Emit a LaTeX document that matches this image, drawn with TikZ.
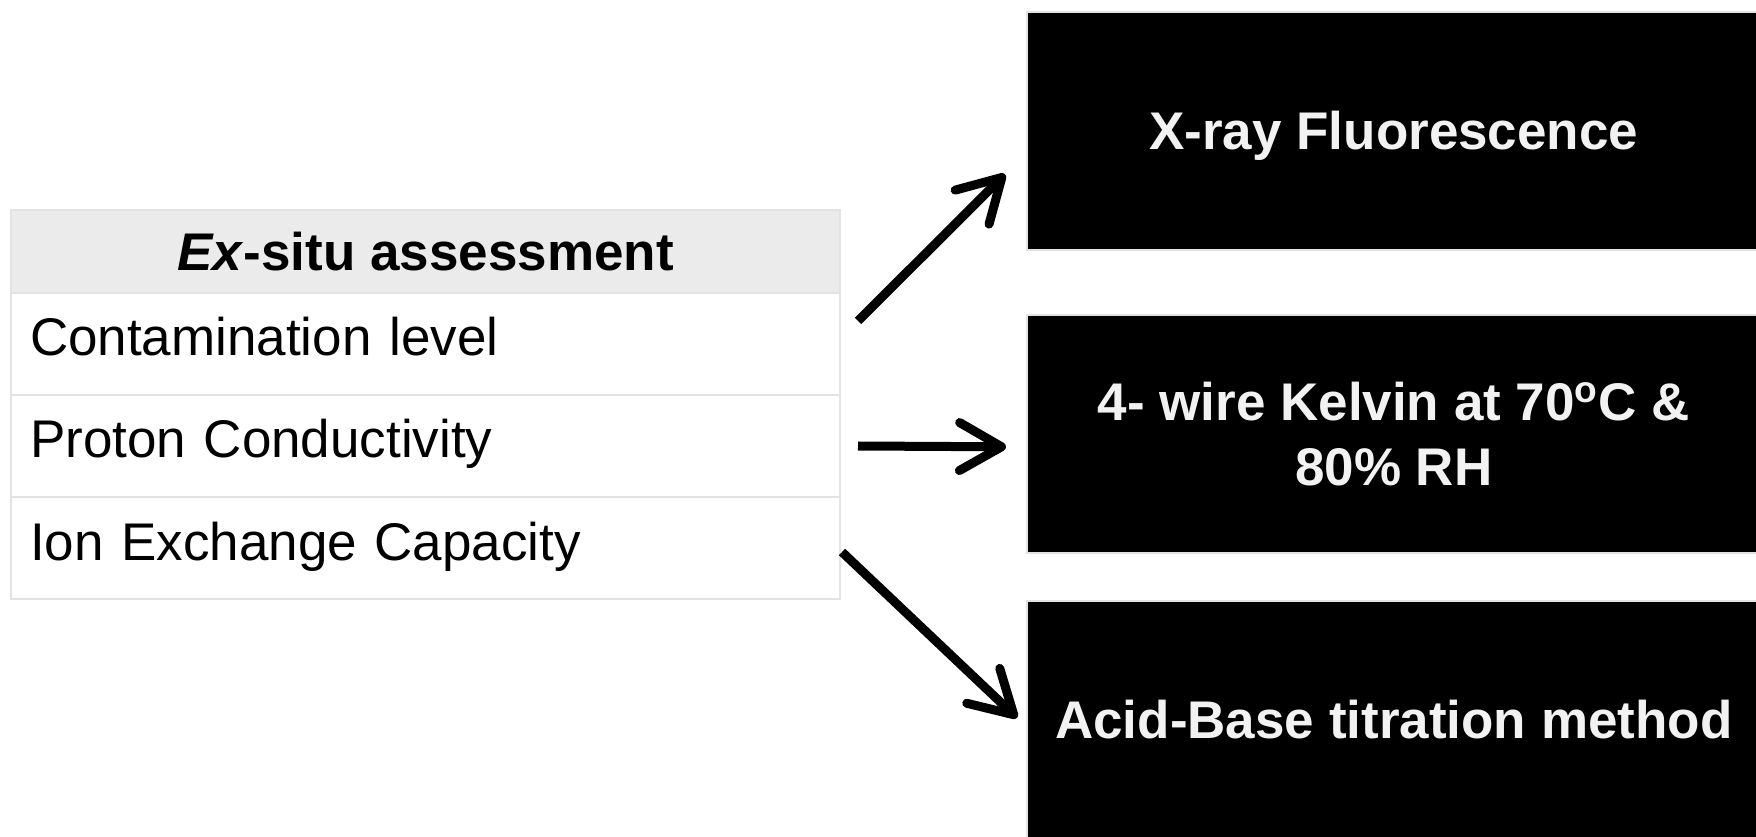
\documentclass[tikz,border=0pt]{standalone}
\usepackage{fontspec}
\setmainfont{Liberation Sans}
\usetikzlibrary{arrows.meta,positioning}
\definecolor{hdrgray}{HTML}{EBEBEB}
\definecolor{linegray}{HTML}{E3E3E3}
\definecolor{txtgray}{HTML}{F2F2F2}

\begin{document}
\begin{tikzpicture}[node distance=0pt,
  hdr/.style={rectangle,draw=linegray,line width=1pt,fill=hdrgray,outer sep=0pt,
              minimum width=414.5pt,minimum height=41.5pt,inner sep=0pt,
              font=\fontsize{26.5}{32}\selectfont\bfseries},
  cell/.style={rectangle,draw=linegray,line width=1pt,outer sep=0pt,
               minimum height=51pt,text width=395.5pt,inner xsep=9.5pt,inner ysep=0pt,
               text height=19pt,text depth=7pt,
               align=left,font=\fontsize{26.5}{32}\selectfont},
  method/.style={rectangle,draw=linegray,line width=0.8pt,fill=black,text=txtgray,
                 minimum width=367pt,minimum height=119pt,align=center,
                 font=\fontsize{26.5}{32.5}\selectfont\bfseries},
  arr/.style={line width=4.5pt,-{Straight Barb[length=21pt,width=24pt,round]}}]
\useasboundingbox (0,0) rectangle (878pt,418pt);
% table
\node[hdr,anchor=north west] (head) at (5.5pt,313pt) {\textit{Ex}-situ assessment};
\node[cell,below=of head] (cont) {Contamination level};
\node[cell,below=of cont] (cond) {Proton Conductivity};
\node[cell,below=of cond] (iec)  {Ion Exchange Capacity};
% methods
\node[method,anchor=north west,text depth=0pt] (xrf) at (513pt,412.5pt) {X-ray Fluorescence};
\node[method,anchor=north west] (kelvin) at (513pt,261pt)
  {4- wire Kelvin at 70\textsuperscript{o}C \&\\80\% RH};
\node[method,anchor=north west] (titr)   at (513pt,118pt) {Acid-Base titration method};
% arrows
\draw[arr] ([xshift=9pt,yshift=11.5pt]cont.east) -- ([xshift=-10.5pt,yshift=-21.75pt]xrf.west);
\draw[arr] ([xshift=9pt]cond.east) -- ([xshift=-10pt,yshift=-6.5pt]kelvin.west);
\draw[arr] ([xshift=1pt,yshift=-2pt]iec.east) -- ([xshift=-4.5pt,yshift=1pt]titr.west);
\end{tikzpicture}
\end{document}
